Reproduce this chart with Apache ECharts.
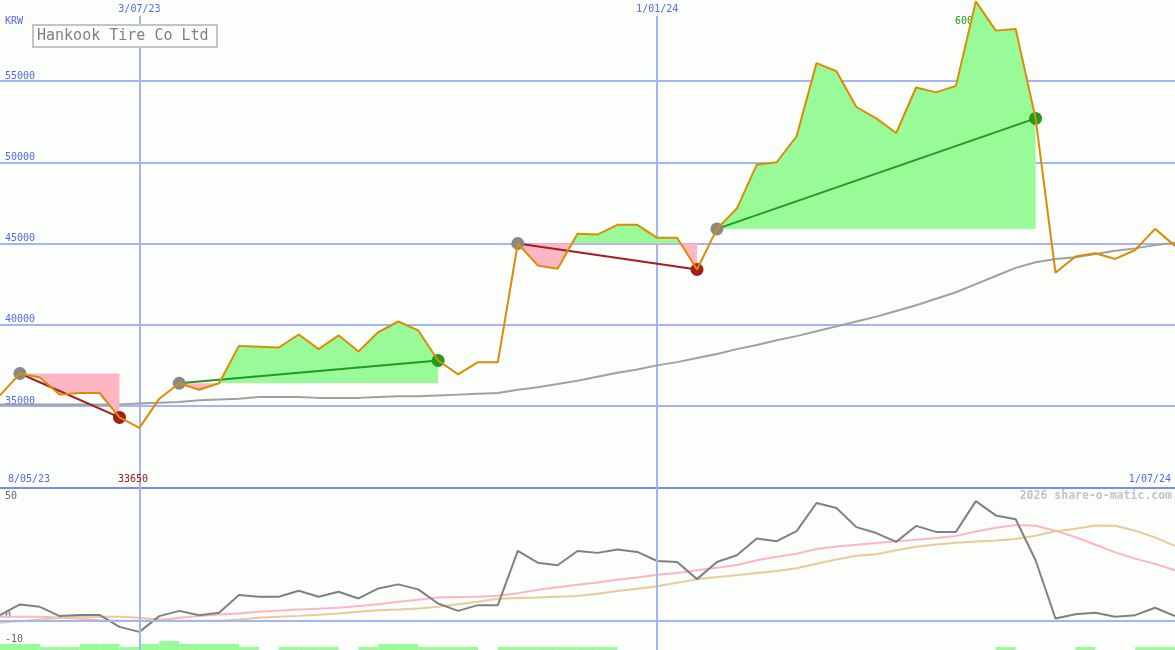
<!DOCTYPE html>
<html><head><meta charset="utf-8">
<script src="https://cdn.jsdelivr.net/npm/echarts@6/dist/echarts.min.js"></script>
<style>html,body{margin:0;padding:0;background:#fcfefc}#c{width:1175px;height:650px}</style>
</head><body><div id="c"></div>
<script>
// ---- data ----
const weeks = ['2023-05-15','2023-05-22','2023-05-29','2023-06-05','2023-06-12','2023-06-19','2023-06-26',
 '2023-07-03','2023-07-10','2023-07-17','2023-07-24','2023-07-31','2023-08-07','2023-08-14','2023-08-21','2023-08-28',
 '2023-09-04','2023-09-11','2023-09-18','2023-09-25','2023-10-02','2023-10-09','2023-10-16','2023-10-23','2023-10-30',
 '2023-11-06','2023-11-13','2023-11-20','2023-11-27','2023-12-04','2023-12-11','2023-12-18','2023-12-25',
 '2024-01-01','2024-01-08','2024-01-15','2024-01-22','2024-01-29','2024-02-05','2024-02-12','2024-02-19','2024-02-26',
 '2024-03-04','2024-03-11','2024-03-18','2024-03-25','2024-04-01','2024-04-08','2024-04-15','2024-04-22','2024-04-29',
 '2024-05-06','2024-05-13','2024-05-20','2024-05-27','2024-06-03','2024-06-10','2024-06-17','2024-06-24','2024-07-01'];
const price = [35650,37000,36750,35700,35800,35800,34300,33650,35450,36400,36000,36400,38700,38650,38600,39400,
 38500,39350,38350,39550,40200,39650,37800,36950,37700,37700,45000,43650,43450,45600,45550,46150,46150,45350,45350,
 43400,45900,47150,49850,50000,51600,56100,55600,53400,52700,51800,54600,54300,54700,59900,58100,58200,52700,43200,
 44200,44400,44050,44600,45900,44850];
const priceMA = [35100,35100,35100,35100,35100,35100,35100,35150,35200,35250,35350,35400,35450,35550,35550,35550,
 35500,35500,35500,35550,35600,35600,35650,35700,35750,35800,36000,36150,36350,36550,36800,37050,37250,37500,37700,
 37950,38200,38500,38750,39050,39300,39600,39900,40200,40500,40850,41200,41600,42000,42500,43000,43500,43850,44050,
 44150,44350,44550,44700,44900,45050];
const oscillator = [2.3,6.8,5.8,1.9,2.4,2.4,-2.6,-4.7,1.9,4.1,2.3,3.3,10.7,10.0,10.0,12.5,10.0,12.1,9.3,13.5,15.2,13.1,
 7.2,4.1,6.5,6.5,29.2,24.3,23.2,29.2,28.4,29.8,28.8,25.0,24.6,17.4,24.6,27.4,34.4,33.3,37.5,49.3,47.2,39.2,36.7,33.0,
 39.7,37.2,37.2,50.1,44.1,42.5,25.3,0.9,2.7,3.3,1.6,2.3,5.4,1.9];
const oscAvgFast = [1.6,1.6,1.6,1.3,0.8,0.2,0,0,0.3,1.2,1.9,2.6,3.0,3.7,4.2,4.7,5.0,5.4,6.1,6.9,7.9,8.8,9.7,9.9,10.0,
 10.4,11.5,12.9,14.0,15.0,16.0,17.1,18.1,19.2,20.0,21.1,22.2,23.3,25.3,26.8,28.0,30.0,31.1,31.8,32.5,33.3,33.9,34.6,
 35.5,37.4,38.9,40.1,39.8,37.7,35.0,31.8,28.6,26.0,23.8,21.1];
const oscAvgSlow = [-0.9,-0.2,0.5,1.2,1.6,1.6,1.6,1.2,0.5,0,0,0,0.5,1.2,1.6,2.0,2.5,3.0,3.7,4.4,4.7,5.1,5.8,6.9,7.9,
 9.2,9.5,9.7,10.0,10.3,11.3,12.4,13.4,14.4,15.9,17.3,18.3,19.0,20.0,20.8,22.0,23.8,25.6,27.2,27.8,29.5,31.0,31.9,32.6,
 33.2,33.6,34.2,35.6,37.5,38.5,39.9,39.8,37.7,34.9,31.2];
const weeklyBars = [6,6,3,3,6,6,3,6,9,6,6,6,3,0,3,3,3,0,3,6,6,3,3,3,0,3,3,3,3,3,3,0,0,0,0,0,0,0,0,0,0,0,0,0,0,0,0,0,
 0,0,3,0,0,0,3,0,0,3,3];
const tradeEntryIdx = [1, 9, 26, 36];
const tradeExitIdx = [6, 22, 35, 52];
const priceTicks = [35000, 40000, 45000, 50000, 55000];
const oscTicks = [50, 0, -10];
const markedDates = ['2023-07-03', '2024-01-01'];
const currency = 'KRW';
const titleText = 'Hankook Tire Co Ltd';
const startLabel = '8/05/23', endLabel = '1/07/24';
const lowLabel = '33650', highLabel = '60000';
const watermark = '2026 share-o-matic.com';

// ---- styles ----
const BLUE = '#a4b4f4', LBL = '#5566ee', FONT = 'DejaVu Sans Mono';
const GREEN_FILL = '#98fb98', PINK_FILL = '#ffb6c4';
const fmtDate = s => { const p = s.split('-'); return parseInt(p[2], 10) + '/' + p[1] + '/' + p[0].slice(2); };
const markedIdx = markedDates.map(d => weeks.indexOf(d));
const isMarked = i => markedIdx.indexOf(i) >= 0;

const series = [];
const visualMaps = [];
// price moving average
series.push({type:'line', xAxisIndex:0, yAxisIndex:0, data:priceMA, showSymbol:false, z:2,
  lineStyle:{color:'#a0a0a0', width:2}, silent:true});
// trade fills
tradeEntryIdx.forEach((e, k) => {
  const x = tradeExitIdx[k];
  const entry = price[e];
  const d = price.map((v, i) => (i >= e && i <= x) ? v : null);
  visualMaps.push({type:'piecewise', show:false, seriesIndex: series.length, dimension:1,
    pieces:[{gte: 0, lt: entry, color: PINK_FILL}, {gte: entry, lte: 1000000, color: GREEN_FILL}]});
  series.push({type:'line', xAxisIndex:0, yAxisIndex:0, data:d, showSymbol:false, z:3, clip:false,
    lineStyle:{width:0, opacity:0}, areaStyle:{origin: entry, opacity:1}, silent:true});
});
// trade lines
tradeEntryIdx.forEach((e, k) => {
  const x = tradeExitIdx[k];
  const win = price[x] >= price[e];
  series.push({type:'line', xAxisIndex:0, yAxisIndex:0, showSymbol:false, z:4,
    data:[[weeks[e], price[e]], [weeks[x], price[x]]],
    lineStyle:{color: win ? '#229922' : '#a21d1d', width:2}, silent:true});
});
// trade markers
const markers = [];
tradeEntryIdx.forEach((e, k) => {
  const x = tradeExitIdx[k];
  const win = price[x] >= price[e];
  markers.push({value:[weeks[e], price[e]], itemStyle:{color:'#888888', opacity:1}});
  markers.push({value:[weeks[x], price[x]], itemStyle:{color: win ? '#229922' : '#a21d1d', opacity:1}});
});
series.push({type:'scatter', xAxisIndex:0, yAxisIndex:0, data:markers, symbolSize:13, z:5, silent:true,
  itemStyle:{opacity:1}});
// price
series.push({type:'line', xAxisIndex:0, yAxisIndex:0, data:price, showSymbol:false, z:6, clip:false,
  lineStyle:{color:'#dc8c04', width:2}, silent:true});
// lower panel
series.push({type:'line', xAxisIndex:1, yAxisIndex:1, data:oscAvgFast, showSymbol:false, z:2,
  lineStyle:{color:'#ffb4c6', width:2}, silent:true});
series.push({type:'line', xAxisIndex:1, yAxisIndex:1, data:oscAvgSlow, showSymbol:false, z:2,
  lineStyle:{color:'#e6cc9a', width:2}, silent:true});
series.push({type:'line', xAxisIndex:1, yAxisIndex:1, data:oscillator, showSymbol:false, z:3,
  lineStyle:{color:'#808080', width:2}, silent:true});
series.push({type:'bar', xAxisIndex:2, yAxisIndex:2, data:weeklyBars, barWidth:'100%', barGap:'0%', z:1,
  itemStyle:{color:GREEN_FILL}, silent:true});

const txt = (text, x, y, fill, align) => ({type:'text', x:x, y:y, z:20,
  style:{text:text, fill:fill, font:'10px "' + FONT + '"', textVerticalAlign:'middle', textAlign: align || 'left'}});

const highText = txt(highLabel, 955, 21, '#229922');
highText.z = 0;

const option = {
  backgroundColor:'#fcfefc',
  animation:false,
  grid:[
    {left:0, right:0, top:16, height:471.25},
    {left:0, right:0, top:487.25, height:162.75},
    {left:0, right:0, top:635, height:15}
  ],
  xAxis:[
    {type:'category', gridIndex:0, data:weeks, boundaryGap:false, position:'bottom',
      axisLine:{show:true, onZero:false, lineStyle:{color:'#7b8cf2', width:2}},
      axisTick:{show:false}, axisLabel:{show:false}, splitLine:{show:false}},
    {type:'category', gridIndex:1, data:weeks, boundaryGap:false, z:4,
      axisLine:{show:true, onZero:true, lineStyle:{color:BLUE, width:2}},
      axisTick:{show:false}, axisLabel:{show:false},
      splitLine:{show:true, interval:(i) => isMarked(i), lineStyle:{color:BLUE, width:2}}},
    {type:'category', gridIndex:2, data:weeks.slice(0, weeklyBars.length), boundaryGap:true, show:false},
    {type:'category', gridIndex:0, data:weeks, boundaryGap:false, position:'top',
      axisLine:{show:false}, axisTick:{show:false},
      axisLabel:{show:true, interval:(i) => isMarked(i), formatter:fmtDate, color:LBL,
        fontFamily:FONT, fontSize:10, margin:2},
      splitLine:{show:true, interval:(i) => isMarked(i), lineStyle:{color:BLUE, width:2}}}
  ],
  yAxis:[
    {type:'value', gridIndex:0, min:30000, max:59000, interval:5000,
      axisLine:{show:false}, axisTick:{show:false},
      splitLine:{show:true, showMinLine:false, showMaxLine:false, lineStyle:{color:BLUE, width:2}},
      axisLabel:{inside:true, margin:5, color:LBL, fontFamily:FONT, fontSize:10, verticalAlign:'bottom',
        showMinLabel:false, showMaxLabel:false,
        formatter:(v) => priceTicks.indexOf(v) >= 0 ? String(v) : ''}},
    {type:'value', gridIndex:1, min:-12.3, max:55.9,
      axisLine:{show:false}, axisTick:{show:false}, splitLine:{show:false},
      axisLabel:{inside:true, margin:5, color:'#666666', fontFamily:FONT, fontSize:10, verticalAlign:'bottom',
        customValues:oscTicks}},
    {type:'value', gridIndex:2, min:0, max:15, show:false}
  ],
  visualMap: visualMaps,
  series: series,
  graphic:[
    txt(currency, 5, 21, LBL),
    txt(startLabel, 8, 479, LBL),
    txt(lowLabel, 148, 479, '#a01818', 'right'),
    txt(endLabel, 1171, 479, LBL, 'right'),
    highText,
    {type:'rect', z:20, shape:{x:33, y:25, width:184, height:22},
      style:{fill:'#fcfefc', stroke:'#c4c4c4', lineWidth:2}},
    {type:'text', z:21, x:37, y:36.5, style:{text:titleText, fill:'#808080', font:'15px "' + FONT + '"', textVerticalAlign:'middle'}},
    {type:'text', z:21, x:1172, y:496, style:{text:watermark, fill:'#c4c4c4', font:'bold 11.5px "' + FONT + '"', textVerticalAlign:'middle', textAlign:'right'}}
  ]
};
const chart = echarts.init(document.getElementById('c'));
chart.setOption(option);
</script>
</body></html>
